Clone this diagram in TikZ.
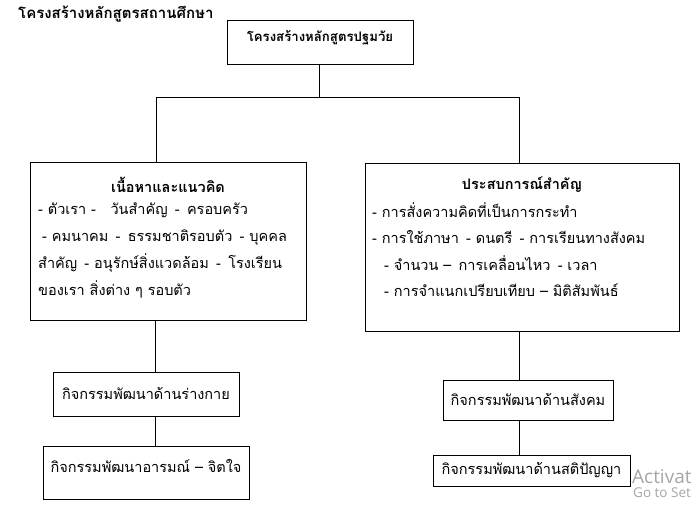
\documentclass[tikz,border=0pt]{standalone}
\usepackage{fontspec}
\newfontfamily\thai[Script=Thai]{Loma}
\newfontfamily\winfont{Open Sans}
\begin{document}
\begin{tikzpicture}[x=1pt,y=-1pt,
  box/.style={draw=black,line width=0.8pt,inner sep=0pt,outer sep=0pt},
  txt/.style={inner sep=0pt,font=\thai\fontsize{14.5}{17}\selectfont},
  btxt/.style={inner sep=0pt,font=\thai\bfseries\fontsize{14.5}{17}\selectfont},
  wire/.style={draw=black,line width=0.8pt},
  wmark/.style={inner sep=0pt,anchor=west,text=black!35}]
\useasboundingbox[fill=white] (0,0) rectangle (696,508);
% title
\node[btxt,anchor=west,font=\thai\bfseries\fontsize{15}{17}\selectfont] (title) at (18,14) {โครงสร้างหลักสูตรสถานศึกษา};
% boxes
\node[box,minimum width=186pt,minimum height=44pt] (top) at (320,42) {};
\node[btxt,font=\thai\bfseries\fontsize{13.2}{15}\selectfont] (toptxt) at (320,38) {โครงสร้างหลักสูตรปฐมวัย};
\node[box,minimum width=276pt,minimum height=158pt] (lbox) at (168,241.5) {};
\node[box,minimum width=314pt,minimum height=168pt] (rbox) at (522,247) {};
\node[box,minimum width=186pt,minimum height=44pt] (l1) at (146,394) {};
\node[box,minimum width=206pt,minimum height=53pt] (l2) at (146,472.5) {};
\node[box,minimum width=170pt,minimum height=40pt] (r1) at (528,400) {};
\node[box,minimum width=197pt,minimum height=31pt] (r2) at (531.5,470.5) {};
% texts of small boxes
\node[txt] (l1t) at (146,393) {กิจกรรมพัฒนาด้านร่างกาย};
\node[txt] (l2t) at (146,466) {กิจกรรมพัฒนาอารมณ์ – จิตใจ};
\node[txt] (r1t) at (528,399) {กิจกรรมพัฒนาด้านสังคม};
\node[txt] (r2t) at (531.5,470) {กิจกรรมพัฒนาด้านสติปัญญา};
% left big box text
\node[btxt] (lhead) at (168,185) {เนื้อหาและแนวคิด};
\node[txt,anchor=west] (la) at (38,210) {- ตัวเรา -\quad วันสำคัญ\enspace -\enspace ครอบครัว};
\node[txt,anchor=west] (lb) at (42,238) {- คมนาคม\enspace -\enspace ธรรมชาติรอบตัว\enspace - บุคคล};
\node[txt,anchor=west] (lc) at (38,263) {สำคัญ\enspace - อนุรักษ์สิ่งแวดล้อม\enspace -\enspace โรงเรียน};
\node[txt,anchor=west] (ld) at (38,289) {ของเรา สิ่งต่าง ๆ รอบตัว};
% right big box text
\node[btxt] (rhead) at (522,185) {ประสบการณ์สำคัญ};
\node[txt,anchor=west] (ra) at (372,210) {- การสั่งความคิดที่เป็นการกระทำ};
\node[txt,anchor=west] (rb) at (372,237) {- การใช้ภาษา\enspace - ดนตรี\enspace - การเรียนทางสังคม};
\node[txt,anchor=west] (rc) at (384,263) {- จำนวน –\enspace การเคลื่อนไหว\enspace - เวลา};
\node[txt,anchor=west] (rd) at (384,290) {- การจำแนกเปรียบเทียบ – มิติสัมพันธ์};
% connectors
\coordinate (j) at (319,97);
\coordinate (jl) at (156,97);
\coordinate (jr) at (519,97);
\draw[wire] (top.south -| j) -- (j);
\draw[wire] (jl) -- (jr);
\draw[wire] (jl) -- (jl |- lbox.north);
\draw[wire] (jr) -- (jr |- rbox.north);
\coordinate (lv) at (155,320);
\draw[wire] (lv |- lbox.south) -- (lv |- l1.north);
\draw[wire] (lv |- l1.south) -- (lv |- l2.north);
\draw[wire] (jr |- rbox.south) -- (jr |- r1.north);
\draw[wire] (jr |- r1.south) -- (jr |- r2.north);
% watermark
\node[wmark,font=\winfont\fontsize{19}{21}\selectfont] (wm1) at (632,477) {Activat};
\node[wmark,font=\winfont\fontsize{13.5}{15}\selectfont] (wm2) at (633,493) {Go to Set};
\end{tikzpicture}
\end{document}
